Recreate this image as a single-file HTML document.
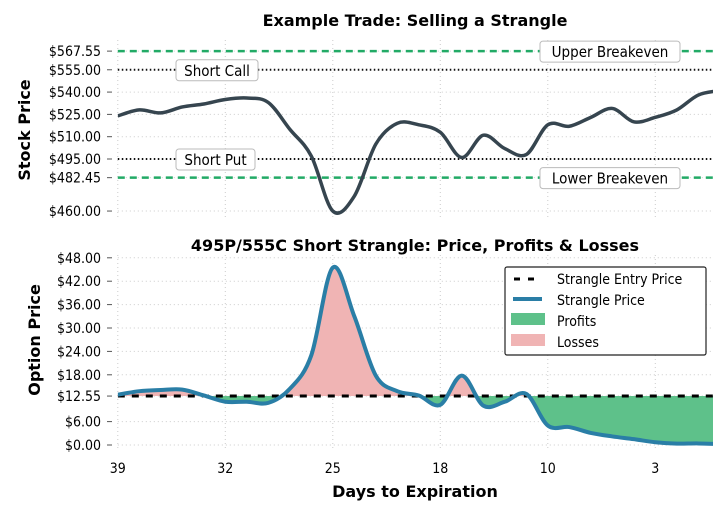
<!DOCTYPE html>
<html><head><meta charset="utf-8"><style>
body{margin:0;background:#fff}
svg text{font-family:"DejaVu Sans Condensed","DejaVu Sans","Liberation Sans",sans-serif}
svg text.ttl{font-family:"DejaVu Sans","Liberation Sans",sans-serif}
</style></head><body>
<svg id="c" width="725" height="515" viewBox="0 0 725 515" xmlns="http://www.w3.org/2000/svg"></svg>
<script>
const xTickLabels = ["39","32","25","18","10","3"];
const xTickIdx = [0,5,10,15,20,25];
const stockPrices = [524,528,526,530,532,535,536,533,515,497,460,470,505,519,518,513,496,511,502,498,518,517,523,529,520,523,528,538,541];
const optionPrices = [12.9,13.8,14.1,14.2,12.7,11.1,11.1,10.8,14.4,23,45.5,33,17.8,13.8,12.7,10.3,17.8,10.1,11.1,13.1,5,4.6,3.1,2.2,1.5,0.7,0.35,0.4,0.2];
const stockTicks = [567.55,555,540,525,510,495,482.45,460];
const optionTicks = [48,42,36,30,24,18,12.55,6,0];
const entryPrice = 12.55;
const shortCall = 555, shortPut = 495, upperBE = 567.55, lowerBE = 482.45;

const NS="http://www.w3.org/2000/svg";
const svg=document.getElementById('c');
function el(tag,attrs,parent){const e=document.createElementNS(NS,tag);for(const k in attrs)e.setAttribute(k,attrs[k]);(parent||svg).appendChild(e);return e;}
const X0=117.8, XS=21.5, XR=713;
const xs=i=>X0+i*XS;
const ysTop=v=>159-(v-495)*1.487;
const ysBot=v=>445-v*3.9;
function spline(pts){let d=`M${pts[0][0]},${pts[0][1]}`;for(let i=0;i<pts.length-1;i++){const p0=pts[Math.max(0,i-1)],p1=pts[i],p2=pts[i+1],p3=pts[Math.min(pts.length-1,i+2)];d+=` C${p1[0]+(p2[0]-p0[0])/6},${p1[1]+(p2[1]-p0[1])/6} ${p2[0]-(p3[0]-p1[0])/6},${p2[1]-(p3[1]-p1[1])/6} ${p2[0]},${p2[1]}`;}return d;}
const defs=el('defs',{});
[['clipTop',38,222],['clipBot',252,450]].forEach(([id,y0,y1])=>{const cp=el('clipPath',{id},defs);el('rect',{x:X0,y:y0,width:XR-X0,height:y1-y0},cp);});
const ebY=ysBot(entryPrice);
const cA=el('clipPath',{id:'above'},defs);el('rect',{x:X0,y:0,width:XR-X0,height:ebY},cA);
const cB=el('clipPath',{id:'below'},defs);el('rect',{x:X0,y:ebY,width:XR-X0,height:200},cB);

function text(x,y,s,attrs,name){const t=el('text',Object.assign({x,y},attrs));t.textContent=s;return t;}

text(415,26,"Example Trade: Selling a Strangle",{'text-anchor':'middle','font-size':16,'font-weight':'bold',class:'ttl'},'top-chart-title');
text(415,251,"495P/555C Short Strangle: Price, Profits & Losses",{'text-anchor':'middle','font-size':16,'font-weight':'bold',class:'ttl'},'bottom-chart-title');
text(30,130,"Stock Price",{'text-anchor':'middle','font-size':16,'font-weight':'bold',class:'ttl',transform:'rotate(-90 30 130)'},'top-y-axis-title');
text(40,340,"Option Price",{'text-anchor':'middle','font-size':16,'font-weight':'bold',class:'ttl',transform:'rotate(-90 40 340)'},'bottom-y-axis-title');
text(415,497,"Days to Expiration",{'text-anchor':'middle','font-size':16,'font-weight':'bold',class:'ttl'},'x-axis-title');

const g=el('g',{});
xTickIdx.forEach((ix,k)=>{const x=xs(ix);
 el('line',{x1:x,x2:x,y1:40,y2:220,stroke:'#ccc','stroke-dasharray':'1,3'},g);
 el('line',{x1:x,x2:x,y1:255,y2:450,stroke:'#ccc','stroke-dasharray':'1,3'},g);
 text(x,473,xTickLabels[k],{'text-anchor':'middle','font-size':14},'x-tick-label');});
stockTicks.forEach(v=>{const y=ysTop(v);el('line',{x1:X0,x2:XR,y1:y,y2:y,stroke:'#ccc','stroke-dasharray':'1,3'},g);el('line',{x1:107,x2:112,y1:y,y2:y,stroke:'#555'},g);text(101,y+5,'$'+v.toFixed(2),{'text-anchor':'end','font-size':14},'top-y-tick-label');});
optionTicks.forEach(v=>{const y=ysBot(v);el('line',{x1:X0,x2:XR,y1:y,y2:y,stroke:'#ccc','stroke-dasharray':'1,3'},g);el('line',{x1:107,x2:112,y1:y,y2:y,stroke:'#555'},g);text(101,y+5,'$'+v.toFixed(2),{'text-anchor':'end','font-size':14},'bottom-y-tick-label');});

[[upperBE,'#22aa66','7,5',2.5,'upper-breakeven-line'],[lowerBE,'#22aa66','7,5',2.5,'lower-breakeven-line'],[shortCall,'#111','1.5,2.5',2,'short-call-line'],[shortPut,'#111','1.5,2.5',2,'short-put-line']].forEach(([v,c,da,w,n])=>{const y=ysTop(v);const l=el('line',{x1:X0,x2:XR,y1:y,y2:y,stroke:c,'stroke-dasharray':da,'stroke-width':w});});
function label(x,w,v,s,n){const y=ysTop(v);el('rect',{x,y:y-10,width:w,height:21,rx:3,fill:'#fff',stroke:'#bbb'});text(x+w/2,y+6,s,{'text-anchor':'middle','font-size':15},n);}
label(540,140,upperBE,"Upper Breakeven",'upper-breakeven-label');
label(176,82,shortCall,"Short Call",'short-call-label');
label(176,79,shortPut,"Short Put",'short-put-label');
label(540,140,lowerBE,"Lower Breakeven",'lower-breakeven-label');

const sp=el('path',{d:spline(stockPrices.map((v,i)=>[xs(i),ysTop(v)])),fill:'none',stroke:'#36454f','stroke-width':3.5,'clip-path':'url(#clipTop)'});


const op=spline(optionPrices.map((v,i)=>[xs(i),ysBot(v)]));
const lastX=xs(optionPrices.length-1);
const area=op+` L${lastX},${ebY} L${X0},${ebY} Z`;
const gb=el('g',{'clip-path':'url(#clipBot)'});
const lf=el('path',{d:area,fill:'#f0b4b4','clip-path':'url(#above)'},gb);
const pf=el('path',{d:area,fill:'#5ec18a','clip-path':'url(#below)'},gb);
const el1=el('line',{x1:X0,x2:XR,y1:ebY,y2:ebY,stroke:'#000','stroke-width':3,'stroke-dasharray':'7,7'},gb);
const ol=el('path',{d:op,fill:'none',stroke:'#2a7ea6','stroke-width':4},gb);

const lg=el('g',{});
el('rect',{x:505,y:267,width:201,height:88,rx:2,fill:'#fff',stroke:'#222','stroke-width':1.2},lg);
el('line',{x1:514,x2:542,y1:279,y2:279,stroke:'#000','stroke-width':3,'stroke-dasharray':'6,8'},lg);
el('line',{x1:513,x2:542,y1:299,y2:299,stroke:'#2a7ea6','stroke-width':4},lg);
el('rect',{x:511,y:313,width:34,height:12,fill:'#5ec18a'},lg);
el('rect',{x:511,y:334,width:34,height:12,fill:'#f0b4b4'},lg);
[["Strangle Entry Price",284],["Strangle Price",305],["Profits",326],["Losses",347]].forEach(([s,y])=>text(557,y,s,{'font-size':14},'legend-entry'));
</script>
</body></html>
